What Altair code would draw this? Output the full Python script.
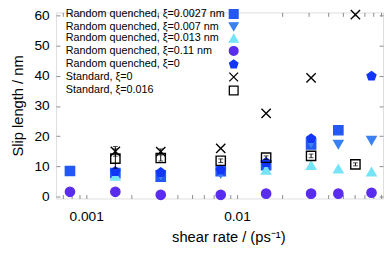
import altair as alt
import pandas as pd

series_names = [
    "Random quenched, ξ=0.0027 nm",
    "Random quenched, ξ=0.007 nm",
    "Random quenched, ξ=0.013 nm",
    "Random quenched, ξ=0.11 nm",
    "Random quenched, ξ=0",
    "Standard, ξ=0",
    "Standard, ξ=0.016",
]

rq0027_x = [0.00078, 0.00156, 0.00312, 0.0078, 0.0156, 0.031, 0.047]
rq0027_y = [8.5, 7.8, 6.6, 8.4, 10.4, 17.3, 22.0]
rq007_x = [0.00156, 0.00312, 0.0078, 0.0156, 0.031, 0.047, 0.078]
rq007_y = [7.4, 7.2, 7.6, 10.2, 17.8, 17.3, 18.6]
rq013_x = [0.00156, 0.0156, 0.031, 0.047, 0.078]
rq013_y = [6.8, 8.8, 10.4, 9.2, 8.2]
rq011_x = [0.00078, 0.00156, 0.00312, 0.0078, 0.0156, 0.031, 0.047, 0.078]
rq011_y = [1.6, 1.6, 0.6, 0.6, 1.0, 1.0, 1.0, 1.3]
rq0_x = [0.00156, 0.00312, 0.0078, 0.0156, 0.031, 0.078]
rq0_y = [8.3, 8.0, 8.8, 11.3, 19.2, 39.9]
std0_x = [0.00156, 0.00312, 0.0078, 0.0156, 0.031, 0.061]
std0_y = [15.0, 14.9, 16.0, 27.6, 39.3, 60.3]
std0_err = [1.6, 0.9, 0.0, 0.0, 0.0, 0.0]
std016_x = [0.00156, 0.00312, 0.0078, 0.0156, 0.031, 0.061]
std016_y = [12.6, 12.8, 11.9, 12.9, 13.5, 10.7]
std016_err = [3.2, 1.0, 0.6, 0.6, 0.6, 0.5]

x_ticks = [0.0007, 0.0008, 0.0009, 0.001, 0.002, 0.003, 0.004, 0.005, 0.006,
           0.007, 0.008, 0.009, 0.01, 0.02, 0.03, 0.04, 0.05, 0.06, 0.07, 0.08, 0.09]
y_ticks = [0, 10, 20, 30, 40, 50, 60]

fills = ["#2458f2", "#3b80f2", "#74e4f6", "#5a2cf0", "#1236f8", "transparent", "transparent"]
strokes = ["#2458f2", "#3b80f2", "#74e4f6", "#5a2cf0", "#1236f8", "#000000", "#000000"]
pentagon = "M0,-1L0.951,-0.309L0.588,0.809L-0.588,0.809L-0.951,-0.309Z"
xcross = "M-1,-1L1,1M-1,1L1,-1"
shapes = ["square", "triangle-down", "triangle-up", "circle", pentagon, xcross, "square"]

all_x = [rq0027_x, rq007_x, rq013_x, rq011_x, rq0_x, std0_x, std016_x]
all_y = [rq0027_y, rq007_y, rq013_y, rq011_y, rq0_y, std0_y, std016_y]

rows = []
for name, xs, ys in zip(series_names, all_x, all_y):
    for xv, yv in zip(xs, ys):
        rows.append({"series": name, "rate": xv, "slip": yv, "idx": len(rows)})
df = pd.DataFrame(rows)

err_rows = []
for xs, ys, es in [(std0_x, std0_y, std0_err), (std016_x, std016_y, std016_err)]:
    for xv, yv, ev in zip(xs, ys, es):
        if ev > 0:
            err_rows.append({"rate": xv, "lo": yv - ev, "hi": yv + ev})
edf = pd.DataFrame(err_rows)

xscale = alt.Scale(type="log", domain=[0.00063, 0.093], nice=False)
yscale = alt.Scale(domain=[-0.6, 61], nice=False, zero=False)
FONT = "Liberation Sans"
AX = "#8a8a8a"

legend = alt.Legend(
    title=None, orient="none", legendX=176, legendY=-4, padding=0,
    labelFont=FONT, labelFontSize=11, labelColor="#000", labelAlign="left",
    labelLimit=260, labelOffset=alt.ExprRef("-177"), symbolSize=80,
    rowPadding=alt.ExprRef("-1.2"), symbolStrokeWidth=1.3,
)

x_bottom = alt.Axis(
    values=x_ticks, labelExpr="(datum.value == 0.001 || datum.value == 0.01) ? datum.value : ''",
    format="g", grid=False, domain=False, offset=-4, tickSize=4, tickColor=AX,
    labelPadding=12, labelFont=FONT, labelFontSize=14, labelColor="#000",
    title="shear rate / (ps⁻¹)", titleFont=FONT, titleFontSize=15, titleFontWeight="normal",
    titleColor="#000", titlePadding=6, titleX=176, labelFlush=False, labelOverlap=False,
)
y_left = alt.Axis(
    values=y_ticks, grid=False, domain=False, offset=-4, tickSize=4, tickColor=AX,
    labelPadding=7, labelFont=FONT, labelFontSize=14, labelColor="#000",
    title="Slip length / nm", titleFont=FONT, titleFontSize=15, titleFontWeight="normal",
    titleColor="#000", titlePadding=9,
)
x_top = alt.Axis(values=x_ticks, orient="top", labels=False, title=None, grid=False,
                 domain=False, offset=-4, tickSize=4, tickColor=AX)
y_right = alt.Axis(values=y_ticks, orient="right", labels=False, title=None, grid=False,
                   domain=False, offset=-4, tickSize=4, tickColor=AX)

dom = series_names
points = alt.Chart(df).mark_point(filled=True, size=90, strokeWidth=1.4, opacity=1).encode(
    x=alt.X("rate:Q", scale=xscale, axis=x_bottom),
    y=alt.Y("slip:Q", scale=yscale, axis=y_left),
    shape=alt.Shape("series:N", scale=alt.Scale(domain=dom, range=shapes), legend=legend),
    fill=alt.Fill("series:N", scale=alt.Scale(domain=dom, range=fills), legend=legend),
    stroke=alt.Stroke("series:N", scale=alt.Scale(domain=dom, range=strokes), legend=legend),
    order=alt.Order("idx:Q"),
)

err = alt.Chart(edf).mark_rule(color="#000", strokeWidth=1).encode(
    x=alt.X("rate:Q", scale=xscale, axis=x_top),
    y=alt.Y("lo:Q", scale=yscale, axis=y_right),
    y2="hi:Q",
)
caps_lo = alt.Chart(edf).mark_tick(color="#000", orient="horizontal", size=5, thickness=1).encode(
    x=alt.X("rate:Q", scale=xscale, axis=None), y=alt.Y("lo:Q", scale=yscale, axis=None))
caps_hi = alt.Chart(edf).mark_tick(color="#000", orient="horizontal", size=5, thickness=1).encode(
    x=alt.X("rate:Q", scale=xscale, axis=None), y=alt.Y("hi:Q", scale=yscale, axis=None))

chart = alt.layer(points, err, caps_lo, caps_hi).resolve_axis(
    x="independent", y="independent"
).properties(
    width=334, height=190,
    autosize=alt.AutoSizeParams(type="none"),
    padding={"left": 49, "top": 2, "right": 1, "bottom": 45},
).configure_view(stroke=AX, strokeWidth=1.2).configure(background="white")

chart.save("out.html", embed_options={"renderer": "svg", "actions": False})
